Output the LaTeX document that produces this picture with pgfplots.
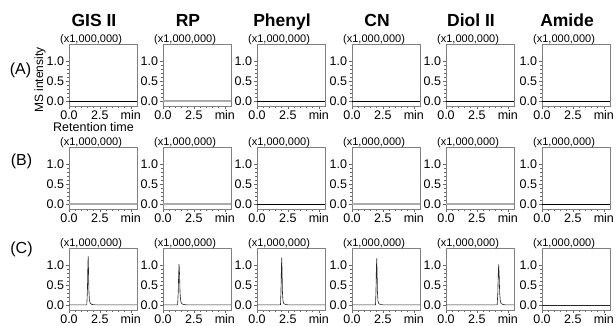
\documentclass[border=0pt]{standalone}
\usepackage{pgfplots}
\pgfplotsset{compat=1.18}
\usepackage{fontspec}
\setmainfont{Liberation Sans}
\definecolor{framegray}{gray}{0.5}
\pgfplotsset{panel/.style={
  scale only axis, width=68pt, height=62pt, anchor=south west,
  xmin=0, xmax=5.5, ymin=-0.13, ymax=1.43,
  xtick={0,2.5,5}, xticklabels={0.0,2.5,min},
  ytick={0,0.5,1}, yticklabels={0.0,0.5,1.0},
  minor x tick num=4, minor y tick num=4,
  xtick pos=bottom, ytick pos=left, tick align=outside,
  major tick length=3pt, minor tick length=1.8pt,
  axis line style={framegray, line width=0.7pt},
  tick style={framegray!80!black, line width=0.55pt},
  /pgf/number format/assume math mode=true,
  tick label style={font=\fontsize{12.5}{13}\selectfont},
  xticklabel style={inner sep=1.2pt},
  yticklabel style={inner sep=1.8pt},
  after end axis/.append code={
    \node[anchor=base west, inner sep=0, font=\fontsize{11}{11}\selectfont]
      at ([xshift=-9pt,yshift=1.5pt]rel axis cs:0,1) {(x1,000,000)};
  }
}, coltitle/.style={
  after end axis/.append code={
    \node[anchor=base, inner sep=0, font=\fontsize{17.5}{18}\selectfont\bfseries]
      at ([xshift=-9pt,yshift=17pt]rel axis cs:0.5,1) {#1};
  }
},
base/.style={black, line width=0.6pt},
gbase/.style={gray!65, line width=1.5pt},
peak/.style={black!85, line width=0.6pt}}
\begin{document}
\begin{tikzpicture}[x=1pt,y=1pt]
\path[use as bounding box] (0,0) rectangle (616,326);
% Row A
\begin{axis}[panel, coltitle={GIS II}, at={(69pt,220pt)}]
\addplot[base] coordinates {(0,0) (5.5,0)};
\end{axis}
\begin{axis}[panel, coltitle={RP}, at={(163pt,220pt)}]
\addplot[gbase] coordinates {(0,0) (5.5,0)};
\end{axis}
\begin{axis}[panel, coltitle={Phenyl}, at={(257pt,220pt)}]
\addplot[base] coordinates {(0,0) (5.5,0)};
\end{axis}
\begin{axis}[panel, coltitle={CN}, at={(352pt,220pt)}]
\addplot[base] coordinates {(0,0) (5.5,0)};
\end{axis}
\begin{axis}[panel, coltitle={Diol II}, at={(446pt,220pt)}]
\addplot[base] coordinates {(0,0) (5.5,0)};
\end{axis}
\begin{axis}[panel, coltitle={Amide}, at={(542pt,220pt)}]
\addplot[base] coordinates {(0,0) (5.5,0)};
\end{axis}
% Row B
\begin{axis}[panel, at={(69pt,117pt)}]
\addplot[gbase] coordinates {(0,0) (5.5,0)};
\end{axis}
\begin{axis}[panel, at={(163pt,117pt)}]
\addplot[gbase] coordinates {(0,0) (5.5,0)};
\end{axis}
\begin{axis}[panel, at={(257pt,117pt)}]
\addplot[base] coordinates {(0,0) (5.5,0)};
\end{axis}
\begin{axis}[panel, at={(352pt,117pt)}]
\addplot[gbase] coordinates {(0,0) (5.5,0)};
\end{axis}
\begin{axis}[panel, at={(446pt,117pt)}]
\addplot[gbase] coordinates {(0,0) (5.5,0)};
\end{axis}
\begin{axis}[panel, at={(542pt,117pt)}]
\addplot[base] coordinates {(0,0) (5.5,0)};
\end{axis}
% Row C
\begin{axis}[panel, at={(69pt,16pt)}]
\addplot[peak] coordinates {(0,0) (1.44,0) (1.49,0.35) (1.52,0.9) (1.55,1.23) (1.58,0.85) (1.61,0.35) (1.65,0.12) (1.72,0.04) (1.85,0.01) (2.1,0) (5.5,0)};
\end{axis}
\begin{axis}[panel, at={(163pt,16pt)}]
\addplot[peak] coordinates {(0,0) (1.18,0) (1.23,0.3) (1.27,0.8) (1.30,1.03) (1.34,0.75) (1.38,0.3) (1.43,0.1) (1.50,0.03) (1.65,0.01) (1.9,0) (5.5,0)};
\end{axis}
\begin{axis}[panel, at={(257pt,16pt)}]
\addplot[peak] coordinates {(0,0) (1.90,0) (1.94,0.35) (1.97,0.9) (2.00,1.19) (2.03,0.8) (2.06,0.3) (2.10,0.1) (2.17,0.03) (2.3,0.01) (2.5,0) (5.5,0)};
\end{axis}
\begin{axis}[panel, at={(352pt,16pt)}]
\addplot[peak] coordinates {(0,0) (1.90,0) (1.94,0.35) (1.97,0.9) (2.00,1.17) (2.03,0.8) (2.06,0.3) (2.10,0.1) (2.17,0.03) (2.3,0.01) (2.5,0) (5.5,0)};
\end{axis}
\begin{axis}[panel, at={(446pt,16pt)}]
\addplot[peak] coordinates {(0,0) (4.14,0) (4.19,0.3) (4.23,0.8) (4.26,1.02) (4.30,0.75) (4.34,0.3) (4.39,0.1) (4.46,0.03) (4.6,0.01) (4.8,0) (5.5,0)};
\end{axis}
\begin{axis}[panel, at={(542pt,16pt)}]
\addplot[peak] coordinates {(0,0) (5.5,0)};
\end{axis}
% Labels
\node[font=\fontsize{16}{16}\selectfont] at (20.5,256) {(A)};
\node[font=\fontsize{16}{16}\selectfont] at (21.5,165) {(B)};
\node[font=\fontsize{16}{16}\selectfont] at (21.5,77) {(C)};
\node[rotate=90, font=\fontsize{12}{12}\selectfont, inner sep=0] at (40,246) {MS intensity};
\node[font=\fontsize{12.5}{13}\selectfont, inner sep=0] at (93.5,199) {Retention time};
\end{tikzpicture}
\end{document}
